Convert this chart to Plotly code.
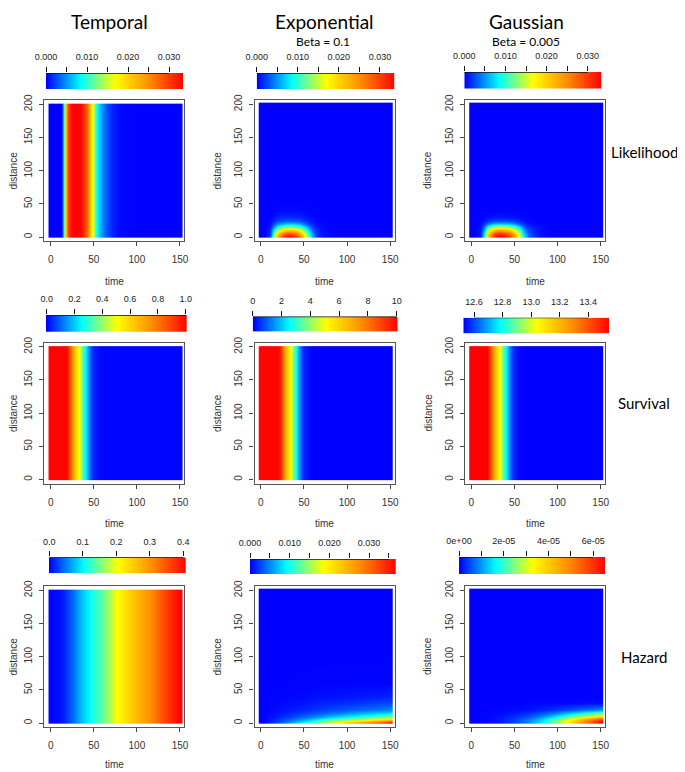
import plotly.graph_objects as go

# page geometry: the browser adds an 8px body margin, so the figure is drawn
# 8px in from the top-left corner of the 685x772 window
OFF = 8
W, H = 685 - OFF, 772 - OFF

# ------------------------------------------------------------------ data
# Row 1 - Likelihood
TL_TIME = [0, 5, 10, 13, 14.5, 16, 18, 20, 22.5, 25, 30, 35, 40, 42.5, 45, 47.5,
           50, 52.5, 55, 57.5, 60, 65, 70, 75, 80, 90, 100, 145, 150]
LIK_TEMPORAL = [0, 0, 0, 0, 0.0084, 0.018, 0.024, 0.029, 0.032, 0.0334, 0.0334, 0.033,
                0.029, 0.026, 0.022, 0.018, 0.0145, 0.010, 0.007, 0.0057, 0.0045,
                0.0027, 0.0013, 0.0007, 0.0003, 0.0001, 0, 0, 0]
DIST_1D = [0, 2, 100, 198, 200]

LIK_TIME = [0, 5, 10, 15, 20, 25, 30, 35, 40, 45, 50, 55, 60, 65, 70, 80, 90, 100, 145, 150]
LIK_DIST = [0, 3, 6, 9, 12, 15, 20, 25, 30, 40, 60, 100, 195, 200]
LIK_EXP = [
    [0, 0, 0.0020, 0.0130, 0.0240, 0.0300, 0.0334, 0.0334, 0.0310, 0.0270, 0.0200, 0.0110, 0.0050, 0.0020, 0.0008, 0.0002, 0, 0, 0, 0],
    [0, 0, 0.0018, 0.0120, 0.0221, 0.0276, 0.0307, 0.0307, 0.0285, 0.0248, 0.0184, 0.0101, 0.0046, 0.0018, 0.0007, 0.0002, 0, 0, 0, 0],
    [0, 0, 0.0016, 0.0104, 0.0192, 0.0240, 0.0267, 0.0267, 0.0248, 0.0216, 0.0160, 0.0088, 0.0040, 0.0016, 0.0006, 0.0002, 0, 0, 0, 0],
    [0, 0, 0.0013, 0.0086, 0.0158, 0.0198, 0.0220, 0.0220, 0.0205, 0.0178, 0.0132, 0.0073, 0.0033, 0.0013, 0.0005, 0.0001, 0, 0, 0, 0],
    [0, 0, 0.0010, 0.0068, 0.0125, 0.0156, 0.0174, 0.0174, 0.0161, 0.0140, 0.0104, 0.0057, 0.0026, 0.0010, 0.0004, 0.0001, 0, 0, 0, 0],
    [0, 0, 0.0008, 0.0049, 0.0091, 0.0114, 0.0127, 0.0127, 0.0118, 0.0103, 0.0076, 0.0042, 0.0019, 0.0008, 0.0003, 0.0001, 0, 0, 0, 0],
    [0, 0, 0.0004, 0.0026, 0.0048, 0.0060, 0.0067, 0.0067, 0.0062, 0.0054, 0.0040, 0.0022, 0.0010, 0.0004, 0.0002, 0, 0, 0, 0, 0],
    [0, 0, 0.0002, 0.0012, 0.0022, 0.0027, 0.0030, 0.0030, 0.0028, 0.0024, 0.0018, 0.0010, 0.0005, 0.0002, 0.0001, 0, 0, 0, 0, 0],
    [0, 0, 0.0001, 0.0005, 0.0010, 0.0012, 0.0013, 0.0013, 0.0012, 0.0011, 0.0008, 0.0004, 0.0002, 0.0001, 0, 0, 0, 0, 0, 0],
    [0, 0, 0, 0.0001, 0.0002, 0.0003, 0.0003, 0.0003, 0.0003, 0.0003, 0.0002, 0.0001, 0, 0, 0, 0, 0, 0, 0, 0],
    [0] * 20,
    [0] * 20,
    [0] * 20,
    [0] * 20,
]
LIK_GAUSS = [
    [0, 0, 0.0010, 0.0090, 0.0220, 0.0300, 0.0334, 0.0334, 0.0315, 0.0290, 0.0240, 0.0160, 0.0080, 0.0040, 0.0020, 0.0005, 0.0001, 0, 0, 0],
    [0, 0, 0.0010, 0.0086, 0.0211, 0.0288, 0.0321, 0.0321, 0.0302, 0.0278, 0.0230, 0.0154, 0.0077, 0.0038, 0.0019, 0.0005, 0.0001, 0, 0, 0],
    [0, 0, 0.0009, 0.0077, 0.0189, 0.0258, 0.0287, 0.0287, 0.0271, 0.0249, 0.0206, 0.0138, 0.0069, 0.0034, 0.0017, 0.0004, 0.0001, 0, 0, 0],
    [0, 0, 0.0007, 0.0066, 0.0161, 0.0219, 0.0244, 0.0244, 0.0230, 0.0212, 0.0175, 0.0117, 0.0058, 0.0029, 0.0015, 0.0004, 0.0001, 0, 0, 0],
    [0, 0, 0.0006, 0.0053, 0.0130, 0.0177, 0.0197, 0.0197, 0.0186, 0.0171, 0.0142, 0.0094, 0.0047, 0.0024, 0.0012, 0.0003, 0.0001, 0, 0, 0],
    [0, 0, 0.0004, 0.0039, 0.0095, 0.0129, 0.0144, 0.0144, 0.0135, 0.0125, 0.0103, 0.0069, 0.0034, 0.0017, 0.0009, 0.0002, 0, 0, 0, 0],
    [0, 0, 0.0002, 0.0018, 0.0044, 0.0060, 0.0067, 0.0067, 0.0063, 0.0058, 0.0048, 0.0032, 0.0016, 0.0008, 0.0004, 0.0001, 0, 0, 0, 0],
    [0, 0, 0.0001, 0.0006, 0.0015, 0.0021, 0.0023, 0.0023, 0.0022, 0.0020, 0.0017, 0.0011, 0.0006, 0.0003, 0.0001, 0, 0, 0, 0, 0],
    [0, 0, 0, 0.0002, 0.0004, 0.0006, 0.0007, 0.0007, 0.0006, 0.0006, 0.0005, 0.0003, 0.0002, 0.0001, 0, 0, 0, 0, 0, 0],
    [0] * 20,
    [0] * 20,
    [0] * 20,
    [0] * 20,
    [0] * 20,
]

# Row 2 - Survival (time only)
SURV_TIME = [0, 5, 10, 15, 19, 20, 22.5, 25, 27.5, 30, 32.5, 35, 37.5, 40, 42.5, 45,
             47.5, 50, 55, 60, 70, 100, 145, 150]
SURV_TEMPORAL = [1, 1, 1, 1, 1, 0.95, 0.82, 0.72, 0.64, 0.56, 0.50, 0.44, 0.32, 0.24,
                 0.16, 0.10, 0.06, 0.03, 0.008, 0, 0, 0, 0, 0]
SURV_EXP = [10, 10, 10, 10, 10, 10, 9.3, 8.0, 7.0, 6.2, 5.5, 5.0, 3.8, 2.8, 1.9, 1.2,
            0.7, 0.35, 0.1, 0, 0, 0, 0, 0]
SURV_GAUSS = [13.545, 13.545, 13.545, 13.545, 13.545, 13.49, 13.36, 13.26, 13.18, 13.10,
              13.035, 12.97, 12.85, 12.77, 12.69, 12.63, 12.586, 12.556, 12.533,
              12.525, 12.525, 12.525, 12.525, 12.525]

# Row 3 - Hazard
HT_TIME = [0, 5, 10, 15, 20, 25, 30, 35, 40, 45, 50, 55, 60, 65, 70, 75, 80, 90, 100,
           110, 120, 130, 140, 145, 150]
HAZ_TEMPORAL = [0, 0.002, 0.005, 0.012, 0.025, 0.040, 0.058, 0.073, 0.088, 0.100, 0.115,
                0.128, 0.140, 0.158, 0.178, 0.198, 0.212, 0.240, 0.265, 0.290, 0.318,
                0.350, 0.380, 0.392, 0.404]

HAZ_TIME = [0, 5, 20, 35, 50, 65, 80, 95, 110, 125, 140, 145, 150]
HAZ_DIST = [0, 3, 6, 10, 15, 20, 30, 40, 60, 100, 195, 200]
HAZ_EXP = [
    [0, 0.00037, 0.0029, 0.0062, 0.0099, 0.0139, 0.0184, 0.0220, 0.0257, 0.0294, 0.0334, 0.0349, 0.0367],
    [0, 0.00027, 0.0021, 0.0046, 0.0073, 0.0103, 0.0136, 0.0163, 0.0190, 0.0218, 0.0247, 0.0258, 0.0272],
    [0, 0.00020, 0.0016, 0.0034, 0.0054, 0.0076, 0.0101, 0.0121, 0.0141, 0.0162, 0.0184, 0.0192, 0.0202],
    [0, 0.00014, 0.0011, 0.0023, 0.0037, 0.0051, 0.0068, 0.0081, 0.0095, 0.0109, 0.0124, 0.0129, 0.0136],
    [0, 0.00008, 0.00064, 0.0014, 0.0022, 0.0031, 0.0040, 0.0048, 0.0057, 0.0065, 0.0073, 0.0077, 0.0081],
    [0, 0.00005, 0.0004, 0.00084, 0.0013, 0.0019, 0.0025, 0.0030, 0.0035, 0.0040, 0.0045, 0.0047, 0.0050],
    [0, 0.00002, 0.0002, 0.0004, 0.0007, 0.0010, 0.0013, 0.0015, 0.0018, 0.0021, 0.0024, 0.0025, 0.0026],
    [0, 0.00001, 0.0001, 0.0002, 0.0003, 0.0005, 0.0006, 0.0007, 0.0008, 0.0010, 0.0011, 0.0012, 0.0012],
    [0, 0, 0, 0.00002, 0.00004, 0.00005, 0.00007, 0.00008, 0.0001, 0.00011, 0.00013, 0.00013, 0.00014],
    [0] * 13,
    [0] * 13,
    [0] * 13,
]
HAZ_GAUSS = [
    [0, 0, 0.065e-5, 0.20e-5, 0.46e-5, 0.85e-5, 1.44e-5, 2.29e-5, 3.40e-5, 4.57e-5, 5.75e-5, 6.14e-5, 6.53e-5],
    [0, 0, 0.062e-5, 0.19e-5, 0.44e-5, 0.81e-5, 1.38e-5, 2.19e-5, 3.25e-5, 4.37e-5, 5.50e-5, 5.87e-5, 6.24e-5],
    [0, 0, 0.054e-5, 0.17e-5, 0.38e-5, 0.71e-5, 1.20e-5, 1.91e-5, 2.84e-5, 3.82e-5, 4.80e-5, 5.13e-5, 5.45e-5],
    [0, 0, 0.039e-5, 0.12e-5, 0.28e-5, 0.52e-5, 0.87e-5, 1.39e-5, 2.06e-5, 2.77e-5, 3.49e-5, 3.73e-5, 3.96e-5],
    [0, 0, 0.021e-5, 0.065e-5, 0.15e-5, 0.28e-5, 0.47e-5, 0.74e-5, 1.11e-5, 1.49e-5, 1.87e-5, 2.00e-5, 2.12e-5],
    [0, 0, 0.009e-5, 0.027e-5, 0.062e-5, 0.11e-5, 0.19e-5, 0.31e-5, 0.46e-5, 0.62e-5, 0.78e-5, 0.83e-5, 0.88e-5],
    [0, 0, 0.001e-5, 0.002e-5, 0.005e-5, 0.009e-5, 0.016e-5, 0.025e-5, 0.037e-5, 0.050e-5, 0.063e-5, 0.068e-5, 0.072e-5],
    [0] * 13,
    [0] * 13,
    [0] * 13,
    [0] * 13,
    [0] * 13,
]

# colour-bar legends: (min, max, tick values, tick labels)
LIK_TICKS = [0, 0.005, 0.010, 0.015, 0.020, 0.025, 0.030]
LIK_LABELS = ["0.000", "", "0.010", "", "0.020", "", "0.030"]
CB_SPECS = [
    [(0, 0.0334, LIK_TICKS, LIK_LABELS),
     (0, 0.0335, LIK_TICKS, LIK_LABELS),
     (0, 0.0334, LIK_TICKS, LIK_LABELS)],
    [(-0.005, 1.007, [0, 0.2, 0.4, 0.6, 0.8, 1.0], ["0.0", "0.2", "0.4", "0.6", "0.8", "1.0"]),
     (0, 10.07, [0, 2, 4, 6, 8, 10], ["0", "2", "4", "6", "8", "10"]),
     (12.525, 13.545, [12.6, 12.8, 13.0, 13.2, 13.4], ["12.6", "12.8", "13.0", "13.2", "13.4"])],
    [(-0.001, 0.407, [0, 0.1, 0.2, 0.3, 0.4], ["0.0", "0.1", "0.2", "0.3", "0.4"]),
     (0, 0.0367, [0, 0.005, 0.010, 0.015, 0.020, 0.025, 0.030, 0.035],
      ["0.000", "", "0.010", "", "0.020", "", "0.030", ""]),
     (0, 6.53e-5, [0, 1e-5, 2e-5, 3e-5, 4e-5, 5e-5, 6e-5],
      ["0e+00", "", "2e-05", "", "4e-05", "", "6e-05"])],
]

COL_TITLES = ["Temporal", "Exponential", "Gaussian"]
COL_SUBTITLES = ["", "Beta = 0.1", "Beta = 0.005"]
ROW_TITLES = ["Likelihood", "Survival", "Hazard"]
X_TICKS = [0, 50, 100, 150]
Y_TICKS = [0, 50, 100, 150, 200]

# panel grids and values: (time, distance, z)
PANELS = [
    [(TL_TIME, DIST_1D, [LIK_TEMPORAL for _ in DIST_1D]),
     (LIK_TIME, LIK_DIST, LIK_EXP),
     (LIK_TIME, LIK_DIST, LIK_GAUSS)],
    [(SURV_TIME, DIST_1D, [SURV_TEMPORAL for _ in DIST_1D]),
     (SURV_TIME, DIST_1D, [SURV_EXP for _ in DIST_1D]),
     (SURV_TIME, DIST_1D, [SURV_GAUSS for _ in DIST_1D])],
    [(HT_TIME, DIST_1D, [HAZ_TEMPORAL for _ in DIST_1D]),
     (HAZ_TIME, HAZ_DIST, HAZ_EXP),
     (HAZ_TIME, HAZ_DIST, HAZ_GAUSS)],
]

# ------------------------------------------------------------------ layout geometry (window pixels)
COLS_X = [(44.3, 184.3), (254.5, 394.5), (465.0, 605.0)]
ROWS_Y = [(100.0, 241.0), (342.5, 483.5), (586.0, 727.0)]
CBAR_BOX = [
    [(46, 183, 73, 89.3), (256.7, 394.3, 73, 89.3), (464.3, 601.7, 72, 88.5)],
    [(46, 186.7, 315, 331.7), (252.7, 397.7, 316.5, 331.7), (463.3, 609, 317.7, 333.3)],
    [(49, 185.7, 557.3, 573.3), (250, 395.7, 559, 574.3), (459, 605, 557, 574.3)],
]
X_RANGE = [-7.4, 155.0]
Y_RANGE = [-6.0, 206.5]

COLORSCALE = [[0.0, "#0000FF"], [0.25, "#00FFFF"], [0.5, "#FFFF00"],
              [0.75, "#FF8C00"], [1.0, "#FF0000"]]
TICK_FONT = dict(family="Liberation Sans, Arial, sans-serif", size=10, color="#333333")
CB_FONT = dict(family="Liberation Sans, Arial, sans-serif", size=9, color="#222222")
TITLE_FONT = "Lato, Gill Sans, sans-serif"


def px(x):
    return (x - OFF) / W


def py(y):
    return 1 - (y - OFF) / H


def nm(prefix, i):
    return prefix + ("" if i == 1 else str(i))


fig = go.Figure()
layout = {}
shapes = []
annotations = []

for r in range(3):
    for c in range(3):
        k = r * 3 + c
        im, ic = k + 1, k + 10
        vmin, vmax, tv, tt = CB_SPECS[r][c]
        tx, dy, zz = PANELS[r][c]

        # main heat map
        fig.add_trace(go.Heatmap(
            x=tx, y=dy, z=zz, zmin=vmin, zmax=vmax, zsmooth="best",
            colorscale=COLORSCALE, showscale=False, hoverinfo="skip",
            xaxis=nm("x", im), yaxis=nm("y", im)))
        x0, x1 = COLS_X[c]
        y0, y1 = ROWS_Y[r]
        layout[nm("xaxis", im)] = dict(
            domain=[px(x0), px(x1)], anchor=nm("y", im), range=X_RANGE, automargin=False,
            tickvals=X_TICKS, ticks="outside", ticklen=4, tickwidth=1, tickcolor="#444",
            tickfont=TICK_FONT, ticklabelstandoff=5,
            showline=True, mirror=True, linecolor="#555", linewidth=1.3,
            showgrid=False, zeroline=False)
        layout[nm("yaxis", im)] = dict(
            domain=[py(y1), py(y0)], anchor=nm("x", im), range=Y_RANGE, automargin=False,
            tickvals=Y_TICKS, ticks="outside", ticklen=4, tickwidth=1, tickcolor="#444",
            tickfont=TICK_FONT, tickangle=-90, ticklabelstandoff=3,
            showline=True, mirror=True, linecolor="#555", linewidth=1.3,
            showgrid=False, zeroline=False)

        # colour-bar legend drawn as its own small heat map
        bx0, bx1, by0, by1 = CBAR_BOX[r][c]
        fig.add_trace(go.Heatmap(
            x=[vmin, vmax], y=[0, 1], z=[[vmin, vmax], [vmin, vmax]],
            zmin=vmin, zmax=vmax, zsmooth="best", colorscale=COLORSCALE,
            showscale=False, hoverinfo="skip",
            xaxis=nm("x", ic), yaxis=nm("y", ic)))
        layout[nm("xaxis", ic)] = dict(
            domain=[px(bx0), px(bx1)], anchor=nm("y", ic), range=[vmin, vmax],
            automargin=False,
            side="top", tickvals=tv, ticktext=tt, ticks="outside", ticklen=5,
            tickwidth=1.3, tickcolor="#111", tickfont=CB_FONT, ticklabelstandoff=3,
            showline=False, showgrid=False, zeroline=False)
        layout[nm("yaxis", ic)] = dict(
            domain=[py(by1), py(by0)], anchor=nm("x", ic), range=[0, 1],
            automargin=False,
            showticklabels=False, ticks="", showline=False, showgrid=False,
            zeroline=False)
        shapes.append(dict(type="line", xref=nm("x", ic), yref=nm("y", ic),
                           x0=tv[0], x1=tv[-1], y0=1, y1=1,
                           line=dict(color="#111", width=1.3)))

        # axis titles
        annotations.append(dict(text="time", x=px((x0 + x1) / 2), y=py(min(y1 + 40, 764)),
                                xref="paper", yref="paper", showarrow=False,
                                xanchor="center", yanchor="middle",
                                font=dict(family=TICK_FONT["family"], size=10, color="#333")))
        annotations.append(dict(text="distance", x=px(max(x0 - 37.5, 13)),
                                y=py((y0 + y1) / 2),
                                xref="paper", yref="paper", showarrow=False, textangle=-90,
                                xanchor="center", yanchor="middle",
                                font=dict(family=TICK_FONT["family"], size=10, color="#333")))

TITLE_X = [109, 324, 526.7]
for c in range(3):
    annotations.append(dict(text=COL_TITLES[c], x=px(TITLE_X[c]), y=py(21), xref="paper",
                            yref="paper", showarrow=False, xanchor="center",
                            yanchor="middle", font=dict(family=TITLE_FONT, size=19,
                                                        color="#000")))
    if COL_SUBTITLES[c]:
        annotations.append(dict(text=COL_SUBTITLES[c], x=px(TITLE_X[c] - 1), y=py(41.5),
                                xref="paper", yref="paper", showarrow=False,
                                xanchor="center", yanchor="middle",
                                font=dict(family=TITLE_FONT, size=12, color="#000")))

ROW_Y = [151.7, 402.7, 656.7]
for r in range(3):
    annotations.append(dict(text=ROW_TITLES[r], x=px(644), y=py(ROW_Y[r]), xref="paper",
                            yref="paper", showarrow=False, xanchor="center",
                            yanchor="middle", font=dict(family=TITLE_FONT, size=15,
                                                        color="#000")))

layout.update(dict(
    width=W, height=H, margin=dict(l=0, r=0, t=0, b=0, autoexpand=False),
    paper_bgcolor="white", plot_bgcolor="white", showlegend=False,
    shapes=shapes, annotations=annotations))
fig.update_layout(**layout)
fig.write_html("out.html")
